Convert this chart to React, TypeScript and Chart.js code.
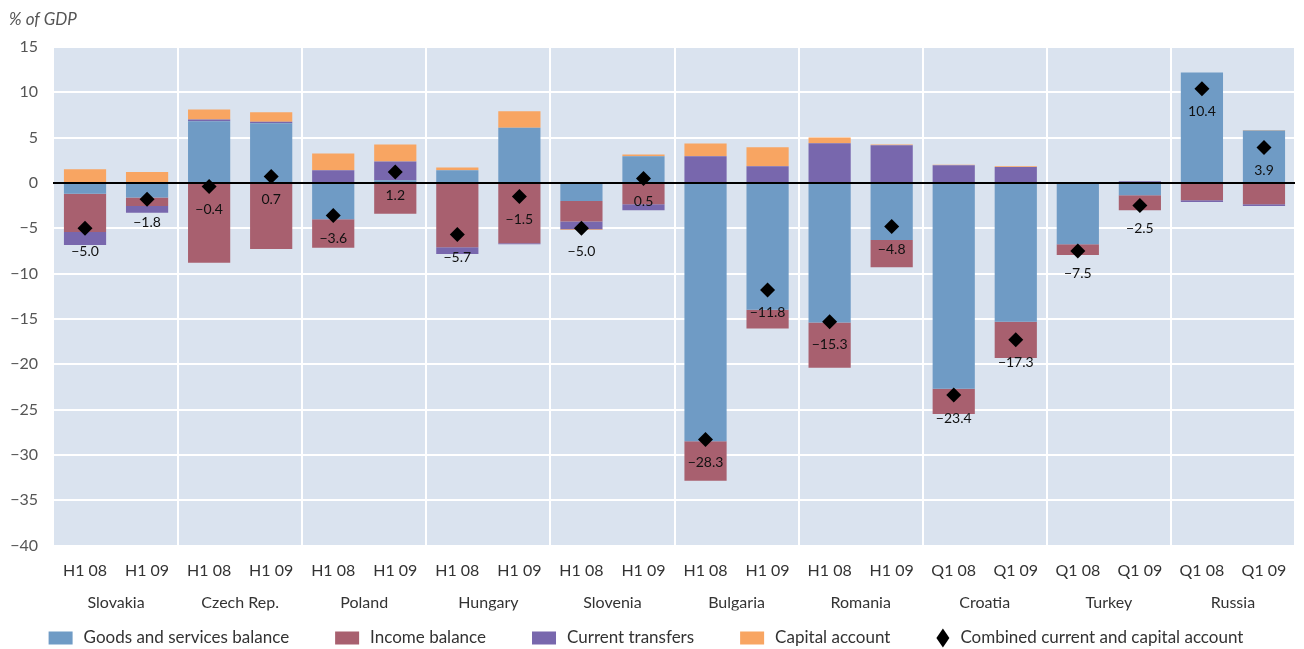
import React, { useEffect, useRef } from 'react';
import { Chart, registerables } from 'chart.js';

Chart.register(...registerables);

const periods = ['H1 08', 'H1 09', 'H1 08', 'H1 09', 'H1 08', 'H1 09', 'H1 08', 'H1 09', 'H1 08', 'H1 09', 'H1 08', 'H1 09', 'H1 08', 'H1 09', 'Q1 08', 'Q1 09', 'Q1 08', 'Q1 09', 'Q1 08', 'Q1 09'];
const countries = ['Slovakia', 'Czech Rep.', 'Poland', 'Hungary', 'Slovenia', 'Bulgaria', 'Romania', 'Croatia', 'Turkey', 'Russia'];

const goodsServices = [-1.2, -1.6, 6.8, 6.6, -4.0, 0.3, 1.4, 6.1, -2.0, 2.95, -28.5, -14.0, -15.4, -6.3, -22.7, -15.3, -6.75, -1.35, 12.2, 5.8];
const incomeBalance = [-4.2, -0.95, -8.8, -7.3, -3.15, -3.4, -7.1, -6.65, -2.25, -2.35, -4.35, -2.05, -5.0, -3.0, -2.8, -4.0, -1.2, -1.65, -1.9, -2.35];
const currentTransfers = [-1.45, -0.75, 0.2, 0.15, 1.4, 2.08, -0.75, -0.1, -0.85, -0.65, 2.95, 1.85, 4.37, 4.15, 1.95, 1.75, 0, 0.2, -0.2, -0.2];
const capitalAccount = [1.5, 1.2, 1.1, 1.05, 1.85, 1.87, 0.3, 1.8, -0.1, 0.2, 1.4, 2.1, 0.65, 0.1, 0.05, 0.1, 0, 0, 0, 0.05];
const combinedAccount = [-5.0, -1.8, -0.4, 0.7, -3.6, 1.2, -5.7, -1.5, -5.0, 0.5, -28.3, -11.8, -15.3, -4.8, -23.4, -17.3, -7.5, -2.5, 10.4, 3.9];

const seriesNames = ['Goods and services balance', 'Income balance', 'Current transfers', 'Capital account', 'Combined current and capital account'];
const seriesColors = ['#6f9bc5', '#a8606f', '#7867ad', '#f8a562', '#000000'];

const FONT = 'Lato, "Open Sans", "DejaVu Sans", sans-serif';
const fmt1 = (v: number) => (v < 0 ? '\u2212' : '') + Math.abs(v).toFixed(1);
const fmt0 = (v: number) => (v < 0 ? '\u2212' : '') + Math.abs(v).toString();

const backgroundPlugin = {
  id: 'plotBackground',
  beforeDraw(chart: any) {
    const { ctx, chartArea } = chart;
    ctx.save();
    ctx.fillStyle = '#dae3ef';
    ctx.fillRect(chartArea.left, chartArea.top, chartArea.right - chartArea.left, chartArea.bottom - chartArea.top);
    ctx.restore();
  },
};

const zeroLinePlugin = {
  id: 'zeroLine',
  beforeDatasetDraw(chart: any, args: any) {
    if (args.index !== 4) return;
    const { ctx, chartArea } = chart;
    const y = chart.scales.y.getPixelForValue(0);
    ctx.save();
    ctx.strokeStyle = '#000';
    ctx.lineWidth = 2;
    ctx.beginPath();
    ctx.moveTo(chartArea.left - 1, y);
    ctx.lineTo(chartArea.right, y);
    ctx.stroke();
    ctx.restore();
  },
};

const valueLabelPlugin = {
  id: 'valueLabels',
  afterDatasetsDraw(chart: any) {
    const { ctx } = chart;
    const meta = chart.getDatasetMeta(4);
    ctx.save();
    ctx.font = `14px ${FONT}`;
    ctx.fillStyle = '#111';
    ctx.textAlign = 'center';
    ctx.textBaseline = 'middle';
    meta.data.forEach((pt: any, i: number) => {
      ctx.fillText(fmt1(combinedAccount[i]), pt.x, pt.y + 23);
    });
    ctx.restore();
  },
};

const titleLegendPlugin = {
  id: 'titleLegend',
  afterDraw(chart: any) {
    const { ctx } = chart;
    ctx.save();
    ctx.font = `italic 17px ${FONT}`;
    ctx.fillStyle = '#555';
    ctx.textAlign = 'left';
    ctx.textBaseline = 'middle';
    ctx.fillText('% of GDP', 9, 20);

    ctx.font = `17px ${FONT}`;
    ctx.fillStyle = '#333';
    const boxW = 24;
    const boxH = 13;
    const gapBT = 11;
    const gapItems = 46;
    const widths = seriesNames.map((n, i) => (i === 4 ? 13 : boxW) + gapBT + ctx.measureText(n).width);
    const total = widths.reduce((a, b) => a + b, 0) + gapItems * (widths.length - 1);
    let x = 646 - total / 2;
    const y = 638;
    seriesNames.forEach((name, i) => {
      if (i === 4) {
        ctx.fillStyle = '#000';
        ctx.beginPath();
        ctx.moveTo(x + 6.5, y - 9.5);
        ctx.lineTo(x + 13, y);
        ctx.lineTo(x + 6.5, y + 9.5);
        ctx.lineTo(x, y);
        ctx.closePath();
        ctx.fill();
        ctx.fillStyle = '#333';
        ctx.fillText(name, x + 13 + gapBT, y);
      } else {
        ctx.fillStyle = seriesColors[i];
        ctx.fillRect(x, y - boxH / 2, boxW, boxH);
        ctx.fillStyle = '#333';
        ctx.fillText(name, x + boxW + gapBT, y);
      }
      x += widths[i] + gapItems;
    });
    ctx.restore();
  },
};

export default function App() {
  const canvasRef = useRef<HTMLCanvasElement | null>(null);

  useEffect(() => {
    if (!canvasRef.current) return;
    const barSeries = [goodsServices, incomeBalance, currentTransfers, capitalAccount];
    const datasets: any[] = barSeries.map((data, i) => ({
      type: 'bar',
      label: seriesNames[i],
      data,
      backgroundColor: seriesColors[i],
      borderWidth: 0,
      barPercentage: 0.68,
      categoryPercentage: 1.0,
      order: 1,
      xAxisID: 'x',
      yAxisID: 'y',
    }));
    datasets.push({
      type: 'line',
      label: seriesNames[4],
      data: combinedAccount,
      showLine: false,
      pointStyle: 'rectRot',
      pointRadius: 7.5,
      pointHoverRadius: 7.5,
      pointBackgroundColor: '#000',
      pointBorderColor: '#000',
      pointBorderWidth: 0,
      borderColor: '#000',
      backgroundColor: '#000',
      stack: 'combined',
      order: 0,
      xAxisID: 'x',
      yAxisID: 'y',
    });

    const chart = new Chart(canvasRef.current, {
      type: 'bar',
      data: { labels: periods, datasets },
      options: {
        responsive: false,
        animation: false,
        layout: { padding: { top: 47, right: 9, bottom: 38.5, left: 0 } },
        plugins: {
          legend: { display: false },
          tooltip: { enabled: false },
          title: { display: false },
        },
        scales: {
          x: {
            type: 'category',
            stacked: true,
            position: 'bottom',
            offset: true,
            weight: 0,
            grid: { display: false, drawTicks: false },
            border: { display: false },
            ticks: {
              font: { family: FONT, size: 16 },
              color: '#333',
              padding: 16,
              maxRotation: 0,
              autoSkip: false,
            },
            afterFit: (s: any) => { s.height = 40; },
          },
          x2: {
            type: 'category',
            labels: countries,
            position: 'bottom',
            offset: true,
            weight: 1,
            grid: {
              display: true,
              offset: true,
              drawTicks: false,
              lineWidth: 2,
              color: (c: any) => (c.index === 0 || c.index === countries.length ? 'rgba(0,0,0,0)' : '#ffffff'),
            },
            border: { display: false },
            ticks: {
              font: { family: FONT, size: 16 },
              color: '#333',
              padding: 8,
              maxRotation: 0,
              autoSkip: false,
            },
            afterFit: (s: any) => { s.height = 25; },
          },
          y: {
            stacked: true,
            min: -40,
            max: 15,
            ticks: {
              stepSize: 5,
              font: { family: FONT, size: 16 },
              color: '#555',
              padding: 16,
              callback: (v: any) => fmt0(Number(v)),
            },
            grid: { color: '#ffffff', lineWidth: 2, drawTicks: false },
            border: { display: false },
            afterFit: (s: any) => { s.width = 54; },
          },
        },
      } as any,
      plugins: [backgroundPlugin, zeroLinePlugin, valueLabelPlugin, titleLegendPlugin],
    });
    return () => chart.destroy();
  }, []);

  return (
    <div style={{ position: 'absolute', left: 0, top: 0, width: 1304, height: 649, background: '#fff' }}>
      <canvas ref={canvasRef} width={1304} height={649} style={{ display: 'block' }} />
    </div>
  );
}
